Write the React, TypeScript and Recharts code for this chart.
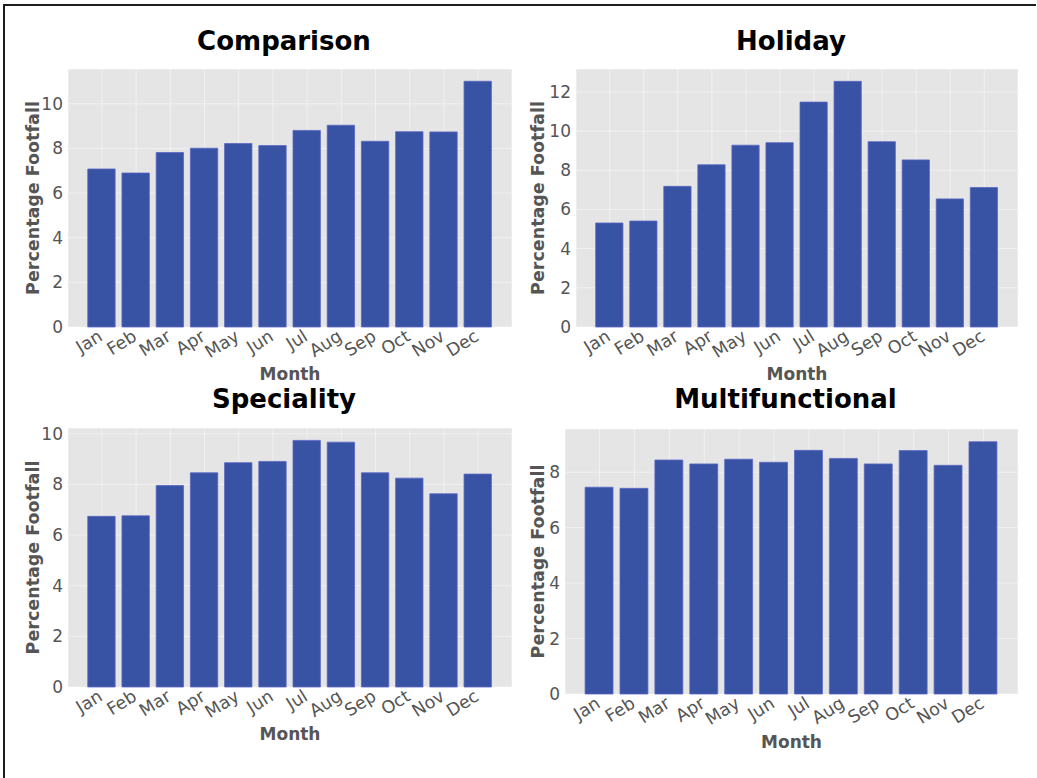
import { Bar, BarChart, CartesianGrid, XAxis, YAxis } from "recharts";

const MONTHS = ["Jan", "Feb", "Mar", "Apr", "May", "Jun", "Jul", "Aug", "Sep", "Oct", "Nov", "Dec"];

const COMPARISON = [7.08, 6.9, 7.82, 8.01, 8.22, 8.13, 8.81, 9.04, 8.32, 8.75, 8.74, 11.01];
const HOLIDAY = [5.31, 5.41, 7.18, 8.28, 9.28, 9.41, 11.48, 12.54, 9.46, 8.53, 6.54, 7.12];
const SPECIALITY = [6.74, 6.76, 7.96, 8.46, 8.86, 8.91, 9.74, 9.67, 8.46, 8.25, 7.63, 8.41];
const MULTIFUNCTIONAL = [7.46, 7.42, 8.44, 8.3, 8.47, 8.36, 8.79, 8.5, 8.3, 8.78, 8.25, 9.1];

const TICKS_COMPARISON = [0, 2, 4, 6, 8, 10];
const TICKS_HOLIDAY = [0, 2, 4, 6, 8, 10, 12];
const TICKS_SPECIALITY = [0, 2, 4, 6, 8, 10];
const TICKS_MULTIFUNCTIONAL = [0, 2, 4, 6, 8];

const FONT = "'DejaVu Sans', Verdana, sans-serif";
const BAR_FILL = "#3852a4";
const TEXT_GREY = "#555555";

// layout of each subplot (plot area rectangle in page pixels)
const PANELS = [
  { title: "Comparison", values: COMPARISON, ticks: TICKS_COMPARISON, ymax: 11.56, plot: { x: 68, y: 69, w: 444, h: 258 }, titleY: 50, monthY: 380, ylabelX: 33 },
  { title: "Holiday", values: HOLIDAY, ticks: TICKS_HOLIDAY, ymax: 13.17, plot: { x: 576, y: 69, w: 442, h: 258 }, titleY: 50, monthY: 380, ylabelX: 538 },
  { title: "Speciality", values: SPECIALITY, ticks: TICKS_SPECIALITY, ymax: 10.23, plot: { x: 68, y: 428, w: 444, h: 259 }, titleY: 408, monthY: 740, ylabelX: 33 },
  { title: "Multifunctional", values: MULTIFUNCTIONAL, ticks: TICKS_MULTIFUNCTIONAL, ymax: 9.56, plot: { x: 565, y: 429, w: 453, h: 265 }, titleY: 408, monthY: 748, ylabelX: 538 },
];

const Y_AXIS_W = 50;
const TOP_PAD = 12;
const RIGHT_PAD = 4;
const X_AXIS_H = 40;

const MonthTick = (props: any) => {
  const { x, y, payload } = props;
  return (
    <g transform={`translate(${x},${y}) rotate(-32)`}>
      <text x={-5} y={11.5} textAnchor="end" fill={TEXT_GREY} fontSize={17.5} fontFamily={FONT}>
        {payload.value}
      </text>
    </g>
  );
};

const Panel = ({ panel }: { panel: (typeof PANELS)[number] }) => {
  const { plot } = panel;
  const data = MONTHS.map((month, i) => ({ month, value: panel.values[i] }));
  const unit = plot.w / 12.98;
  const pad = 0.49 * unit;
  return (
    <div style={{ position: "absolute", left: plot.x - Y_AXIS_W, top: plot.y - TOP_PAD }}>
      <BarChart
        width={Y_AXIS_W + plot.w + RIGHT_PAD}
        height={TOP_PAD + plot.h + X_AXIS_H}
        data={data}
        margin={{ top: TOP_PAD, right: RIGHT_PAD, left: 0, bottom: 0 }}
      >
        <CartesianGrid fill="#e5e5e5" stroke="#ffffff" strokeOpacity={0.45} />
        <XAxis
          dataKey="month"
          axisLine={false}
          tickLine={false}
          tickSize={0}
          tickMargin={0}
          height={X_AXIS_H}
          interval={0}
          padding={{ left: pad, right: pad }}
          tick={<MonthTick />}
        />
        <YAxis
          axisLine={false}
          tickLine={false}
          tickSize={0}
          tickMargin={5}
          width={Y_AXIS_W}
          domain={[0, panel.ymax]}
          ticks={panel.ticks}
          type="number"
          tick={{ fill: TEXT_GREY, fontSize: 17, fontFamily: FONT }}
        />
        <Bar
          dataKey="value"
          barSize={0.8 * unit}
          fill={BAR_FILL}
          stroke="#5a66c4"
          strokeWidth={0.8}
          isAnimationActive={false}
        />
      </BarChart>
    </div>
  );
};

export default function App() {
  return (
    <div style={{ position: "absolute", left: 0, top: 0, width: 1037, height: 778, background: "#ffffff", overflow: "hidden" }}>
      {PANELS.map((p) => (
        <Panel key={p.title} panel={p} />
      ))}
      <svg width={1037} height={778} style={{ position: "absolute", left: 0, top: 0, pointerEvents: "none" }}>
        <rect x={3} y={4} width={1033} height={2} fill="#1c1c1c" />
        <rect x={3} y={4} width={2} height={774} fill="#1c1c1c" />
        {PANELS.map((p) => {
          const cx = p.plot.x + p.plot.w / 2;
          const cy = p.plot.y + p.plot.h / 2;
          return (
            <g key={p.title} fontFamily={FONT} fontWeight="bold">
              <text x={cx - 6} y={p.titleY} textAnchor="middle" fontSize={26} fill="#000000">
                {p.title}
              </text>
              <text x={cx} y={p.monthY} textAnchor="middle" fontSize={17} fill={TEXT_GREY}>
                Month
              </text>
              <text
                x={p.ylabelX}
                y={cy}
                dy="0.35em"
                textAnchor="middle"
                fontSize={17.5}
                fill={TEXT_GREY}
                transform={`rotate(-90, ${p.ylabelX}, ${cy})`}
              >
                Percentage Footfall
              </text>
            </g>
          );
        })}
      </svg>
    </div>
  );
}
